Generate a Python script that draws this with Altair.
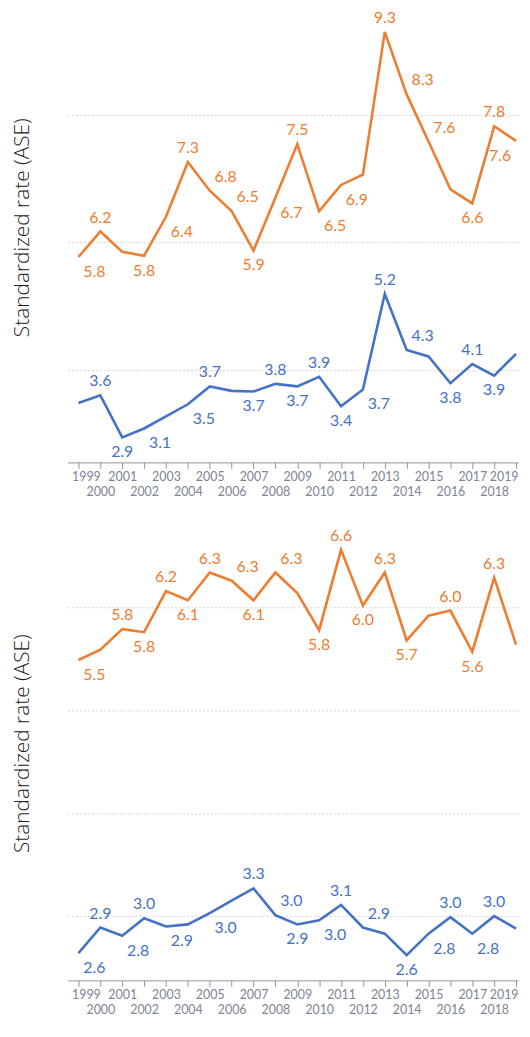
import altair as alt
import pandas as pd

years = list(range(1999, 2020))

top_orange = [5.77, 6.17, 5.85, 5.79, 6.40, 7.26, 6.81, 6.49, 5.87, 6.70, 7.54,
              6.49, 6.90, 7.06, 9.30, 8.32, 7.58, 6.83, 6.61, 7.82, 7.59]
top_blue = [3.48, 3.60, 2.94, 3.08, 3.27, 3.46, 3.74, 3.67, 3.66, 3.78, 3.74,
            3.89, 3.43, 3.69, 5.19, 4.31, 4.21, 3.79, 4.09, 3.91, 4.25]
bottom_orange = [5.49, 5.59, 5.79, 5.76, 6.16, 6.07, 6.34, 6.26, 6.07, 6.34, 6.14,
                 5.78, 6.56, 6.02, 6.34, 5.68, 5.92, 5.97, 5.57, 6.29, 5.64]
bottom_blue = [2.64, 2.89, 2.81, 2.98, 2.90, 2.92, 3.03, 3.15, 3.27, 3.01, 2.92,
               2.96, 3.11, 2.89, 2.83, 2.62, 2.83, 2.99, 2.83, 3.00, 2.88]

# label placement per point ("" = no label)
top_orange_pos = ["br", "t", "", "b", "br", "t", "tr", "tr", "b", "br", "t",
                  "br", "br", "", "t", "tr", "tr", "", "b", "t", "bl"]
top_blue_pos = ["", "t", "b", "br", "", "br", "t", "", "b", "t", "b",
                "t", "b", "br", "t", "tr", "", "b", "t", "b", ""]
bottom_orange_pos = ["br", "", "t", "b", "t", "b", "t", "tr", "b", "tr", "",
                     "b", "t", "b", "t", "b", "", "t", "b", "t", ""]
bottom_blue_pos = ["br", "t", "br", "t", "br", "", "br", "", "t", "tr", "b",
                   "br", "t", "tr", "", "b", "br", "t", "br", "t", ""]

series_names = ["Series 1", "Series 2"]
series_colors = ["#ED7D31", "#4472C4"]

OFFSETS = {"t": (0, -14), "b": (0, 15), "tr": (16, -14), "br": (16, 15), "bl": (-16, 15)}


def make_df(orange, blue, orange_pos, blue_pos):
    rows = []
    for i, yr in enumerate(years):
        rows.append(dict(year=yr, value=orange[i], series=series_names[0], pos=orange_pos[i]))
        rows.append(dict(year=yr, value=blue[i], series=series_names[1], pos=blue_pos[i]))
    return pd.DataFrame(rows)


def panel(df, ydomain, grid_vals, title_y, height):
    xscale = alt.Scale(domain=[1998.5, 2019.09], nice=False, zero=False)
    yscale = alt.Scale(domain=ydomain, nice=False, zero=False)
    xaxis = alt.Axis(
        values=years, format="d",
        labelExpr="datum.value % 2 == 0 ? ['', datum.label] : datum.label",
        labelOverlap=False, labelFlush=False,
        labelAlign={"expr": "datum.value == 1999 ? 'left' : datum.value == 2019 ? 'right' : 'center'"},
        labelOffset={"expr": "datum.value == 1999 ? -7 : datum.value == 2019 ? 2 : 0"},
        grid=False, domainColor="#8f939c", tickColor="#8f939c", tickSize=6,
        labelColor="#7d8494", labelFont="Lato", labelFontSize=12.5,
        labelLineHeight=15.5, labelPadding=2,
        title=None,
    )
    yaxis = alt.Axis(
        values=grid_vals, labels=False, ticks=False, domain=False,
        grid=True, gridColor="#d4d4d4", gridDash=[2, 2], gridWidth=1,
        title="Standardized rate (ASE)", titleFont="Open Sans", titleFontWeight=300,
        titleFontSize=21, titleColor="#222222", titleAngle=270,
        titleAlign="center", titleBaseline="bottom", titleX=-35, titleY=title_y,
    )
    color = alt.Color("series:N", scale=alt.Scale(domain=series_names, range=series_colors),
                      legend=None)
    xenc = alt.X("year:Q", scale=xscale, axis=xaxis)
    yenc = alt.Y("value:Q", scale=yscale, axis=yaxis)
    base = alt.Chart(df)
    line = base.mark_line(strokeWidth=2.6).encode(x=xenc, y=yenc, color=color)
    layers = [line]
    for code, (dx, dy) in OFFSETS.items():
        layers.append(
            base.transform_filter(alt.datum.pos == code)
            .mark_text(dx=dx, dy=dy, font="Lato", fontSize=16, baseline="middle", align="center")
            .encode(
                x=xenc,
                y=yenc,
                text=alt.Text("value:Q", format=".1f"),
                color=color,
            )
        )
    return alt.layer(*layers).properties(width=454, height=height)


top = panel(make_df(top_orange, top_blue, top_orange_pos, top_blue_pos),
            [2.548, 9.645], [4, 6, 8], 219, 456)
bottom = panel(make_df(bottom_orange, bottom_blue, bottom_orange_pos, bottom_blue_pos),
               [2.376, 6.764], [3, 4, 5, 6], 216, 455)

chart = alt.vconcat(top, bottom, spacing=30).properties(
    padding={"left": 4, "top": -2, "right": 0, "bottom": 0}
).configure_view(stroke=None)

chart.save("out.html", embed_options={"renderer": "svg", "actions": False})
